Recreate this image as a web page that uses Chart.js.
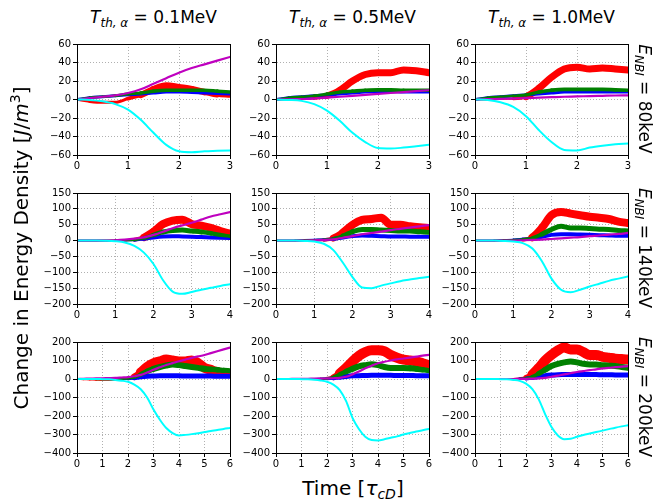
<!DOCTYPE html>
<html>
<head>
<meta charset="utf-8">
<script src="https://cdn.jsdelivr.net/npm/chart.js@4.4.0/dist/chart.umd.min.js"></script>
<style>
body { margin: 0; background: #fff; }
#figura { position: relative; width: 656px; height: 504px; font-family: "DejaVu Sans", sans-serif; color: #000; overflow: hidden; }
#figura canvas { position: absolute; }
.texto { position: absolute; text-align: center; white-space: nowrap; }
.texto sub { font-size: 70%; vertical-align: -0.3em; line-height: 0; }
.texto sup { font-size: 70%; vertical-align: 0.6em; line-height: 0; }
</style>
</head>
<body>
<div id="figura"></div>
<script>
// tempo (tau_cD) por linha
var tempo1 = [0, 0.25, 0.5, 0.75, 1, 1.25, 1.5, 1.75, 2, 2.25, 2.5, 2.75, 3];
var tempo2 = [0, 0.25, 0.5, 0.75, 1, 1.25, 1.5, 1.75, 2, 2.25, 2.5, 2.75, 3, 3.25, 3.5, 3.75, 4];
var tempo3 = [0, 0.25, 0.5, 0.75, 1, 1.25, 1.5, 1.75, 2, 2.25, 2.5, 2.75, 3, 3.25, 3.5, 3.75, 4, 4.25, 4.5, 4.75, 5, 5.25, 5.5, 5.75, 6];

var colunas = ['0.1MeV', '0.5MeV', '1.0MeV'];
var linhas = ['80keV', '140keV', '200keV'];

// E_NBI = 80keV
var vermelho11 = [0, -2, -3, -3, 1, 5, 11, 15, 13, 11, 8, 5, 4];
var verde11 = [0, 2, 3, 4, 6, 7, 9, 10, 10, 10, 10, 9, 8];
var azul11 = [0, 2, 3, 4, 5, 6, 7, 8, 8, 7.5, 7, 6.5, 6];
var magenta11 = [0, 1.5, 3, 4.5, 7, 11, 17, 23, 29, 34, 38, 42, 46];
var ciano11 = [0, -0.5, -2, -5, -11, -22, -36, -49, -56, -57, -56, -55.5, -55];

var vermelho12 = [0, 0, 1, 1.5, 4, 10, 20, 27, 29, 29, 32, 31, 29];
var verde12 = [0, 2, 3, 4, 6, 8, 9, 10, 10.5, 10.5, 10, 10, 10];
var azul12 = [0, 2, 3, 4, 5, 6, 7, 8, 8, 8.5, 8, 8, 8];
var magenta12 = [0, 0.2, 0.5, 1, 2, 3, 4, 5, 6, 7, 8, 9, 10];
var ciano12 = [0, -0.5, -1.5, -5, -12, -23, -36, -46, -52.5, -53, -52, -50.5, -49];

var vermelho13 = [0, 0, 1, 1, 3, 12, 24, 33, 35, 33, 34, 33, 32];
var verde13 = [0, 2, 3, 4, 5, 8, 10, 11, 11, 11, 11, 10.5, 10];
var azul13 = [0, 2, 3, 4, 5, 6, 7, 8, 8, 8, 8, 8, 8];
var magenta13 = [0, 0.3, 0.7, 1, 1.5, 2, 2.5, 3, 3.3, 3.7, 4, 4.3, 4.5];
var ciano13 = [0, -0.5, -3, -8, -18, -33, -46, -54.5, -55, -52, -50, -48.5, -47.5];

// E_NBI = 140keV
var vermelho21 = [0, 0, 0, 0, 0, 1, 3, 10, 28, 52, 63, 66, 52, 47, 40, 30, 22];
var verde21 = [0, 0, 0, 0, 0, 1, 2, 8, 18, 27, 32, 33, 30, 27, 23, 18, 14];
var azul21 = [0, 0, 0, 0, 0, 1, 2, 6, 10, 13, 14, 13, 12, 11, 10, 9, 8];
var magenta21 = [0, 0, 0, 0, 1, 3, 6, 10, 18, 28, 39, 48, 56, 66, 76, 83, 90];
var ciano21 = [0, 0, 0, -0.5, -2, -6, -17, -38, -74, -125, -161, -168, -162, -155, -149, -143, -138];

var vermelho22 = [0, 0, 0, 0, 1, 2, 8, 25, 50, 65, 68, 72, 50, 50, 45, 42, 40];
var verde22 = [0, 0, 0, 1, 2, 3, 6, 15, 28, 35, 35, 33, 32, 30, 30, 28, 26];
var azul22 = [0, 0, 0, 1, 2, 3, 5, 10, 14, 16, 15, 14, 13, 13, 12, 12, 12];
var magenta22 = [0, 0, 0, 0, 1, 2, 4, 9, 14, 20, 24, 28, 33, 37, 41, 45, 49];
var ciano22 = [0, 0, 0, -1, -3, -10, -30, -70, -115, -148, -150, -142, -135, -128, -123, -118, -114];

var vermelho23 = [0, 0, 0, 0, 1, 3, 10, 40, 80, 90, 85, 80, 75, 72, 68, 60, 55];
var verde23 = [0, 0, 0, 1, 2, 4, 8, 20, 35, 45, 40, 40, 38, 36, 35, 32, 30];
var azul23 = [0, 0, 0, 1, 2, 4, 6, 12, 18, 20, 20, 19, 18, 17, 16, 15, 15];
var magenta23 = [0, 0, 0, 0, 0, 1, 2, 3, 5, 7, 9, 11, 14, 16, 19, 21, 24];
var ciano23 = [0, 0, 0, -1, -3, -8, -25, -65, -120, -155, -163, -155, -145, -136, -127, -120, -113];

// E_NBI = 200keV
var vermelho31 = [0, -1, -2, -3, -4, -4, -3, -1, 3, 12, 35, 65, 85, 95, 105, 100, 95, 95, 100, 85, 60, 50, 42, 38, 35];
var verde31 = [0, 0, 0, -1, -2, -2, -1, 0, 3, 10, 25, 42, 55, 65, 73, 78, 75, 70, 65, 60, 55, 52, 50, 47, 45];
var azul31 = [0, 0, 0, 0, 0, 0, 0, 1, 3, 7, 12, 15, 16, 17, 17, 17, 17, 16, 16, 16, 16, 16, 15, 15, 15];
var magenta31 = [0, 1, 2, 3, 4, 5, 6, 8, 10, 15, 22, 35, 50, 63, 76, 86, 96, 105, 114, 122, 130, 140, 150, 160, 170];
var ciano31 = [0, 0, 0, 0, -1, -2, -5, -9, -15, -30, -55, -100, -165, -220, -265, -292, -305, -302, -298, -293, -287, -281, -276, -270, -265];

var vermelho32 = [0, 0, 0, 0, 0, 0, 0, 1, 3, 10, 30, 60, 95, 125, 145, 155, 155, 150, 130, 115, 105, 100, 95, 85, 75];
var verde32 = [0, 0, 0, 0, 0, 0, 0, 1, 3, 10, 25, 40, 55, 68, 75, 80, 75, 65, 60, 60, 60, 58, 55, 50, 45];
var azul32 = [0, 0, 0, 0, 0, 0, 0, 1, 2, 5, 10, 14, 17, 18, 19, 20, 20, 20, 20, 19, 19, 19, 18, 18, 18];
var magenta32 = [0, 0, 0, 1, 1, 1, 2, 2, 3, 4, 6, 12, 25, 40, 58, 72, 85, 93, 100, 106, 111, 116, 121, 126, 130];
var ciano32 = [0, 0, 0, 0, -1, -2, -4, -8, -15, -30, -60, -120, -210, -270, -312, -330, -332, -326, -318, -310, -300, -292, -284, -277, -270];

var vermelho33 = [0, 0, 0, 0, 0, 0, 0, 2, 8, 25, 60, 100, 130, 155, 170, 160, 160, 145, 130, 130, 120, 115, 110, 108, 105];
var verde33 = [0, 0, 0, 0, 0, 0, 0, 1, 4, 12, 30, 50, 70, 82, 90, 95, 90, 82, 78, 78, 75, 72, 70, 65, 60];
var azul33 = [0, 0, 0, 0, 0, 0, 0, 1, 3, 8, 13, 18, 21, 23, 24, 25, 25, 25, 24, 24, 23, 23, 22, 22, 22];
var magenta33 = [0, 0, 0, 0, 0, 0, 0, 1, 1, 2, 3, 6, 12, 18, 25, 31, 38, 43, 48, 52, 57, 60, 64, 67, 70];
var ciano33 = [0, 0, 0, 0, -1, -2, -5, -10, -25, -55, -110, -190, -260, -305, -325, -323, -312, -303, -295, -287, -279, -271, -263, -256, -250];

// eixos por linha
var yMin = [-60, -200, -400];
var yMax = [60, 150, 200];
var yPasso = [20, 50, 100];
var xMax = [3, 4, 6];

var tempos = [tempo1, tempo2, tempo3];
var paineis = [
	[[vermelho11, verde11, azul11, magenta11, ciano11], [vermelho12, verde12, azul12, magenta12, ciano12], [vermelho13, verde13, azul13, magenta13, ciano13]],
	[[vermelho21, verde21, azul21, magenta21, ciano21], [vermelho22, verde22, azul22, magenta22, ciano22], [vermelho23, verde23, azul23, magenta23, ciano23]],
	[[vermelho31, verde31, azul31, magenta31, ciano31], [vermelho32, verde32, azul32, magenta32, ciano32], [vermelho33, verde33, azul33, magenta33, ciano33]]
];

var esquerdaColuna = [77, 276, 475];
var topoLinha = [42, 191, 340];
var larguraPlot = 153, alturaPlot = 113;
var eixoY = 45, eixoX = 20, folgaTopo = 6, folgaDireita = 8;

// espessura maxima das faixas ruidosas por linha: vermelho, verde, azul
var espessura = [[7, 4, 3], [8, 5, 4], [10, 6, 5]];
// amplitude a partir da qual a faixa fica com a espessura cheia: vermelho/verde, azul
var limiar = [[12, 3], [30, 8], [60, 12]];

var moldura = {
	id: 'moldura',
	afterDraw: function(chart) {
		var a = chart.chartArea;
		var ctx = chart.ctx;
		ctx.save();
		ctx.strokeStyle = '#000';
		ctx.lineWidth = 1;
		ctx.strokeRect(Math.round(a.left) + 0.5, Math.round(a.top) + 0.5, Math.round(a.right - a.left), Math.round(a.bottom - a.top));
		ctx.restore();
	}
};

function serie(tempo, valores) {
	return valores.map(function(v, i) { return {x: tempo[i], y: v}; });
}

function menos(v) {
	return String(v).replace('-', '\u2212');
}

function dataset(dados, cor, largura, lim) {
	var ds = {
		data: dados,
		borderColor: cor,
		borderWidth: largura,
		pointRadius: 0,
		fill: false,
		cubicInterpolationMode: 'monotone',
		borderJoinStyle: 'round',
		borderCapStyle: 'round'
	};
	if (lim) {
		// faixa fina no inicio, cheia quando o sinal cresce
		ds.segment = {
			borderWidth: function(ctx) {
				var m = Math.max(Math.abs(ctx.p0.parsed.y), Math.abs(ctx.p1.parsed.y));
				var f = Math.min(1, m / lim);
				return 1.8 + (largura - 1.8) * f;
			}
		};
	}
	return ds;
}

function criarPainel(linha, coluna) {
	var figura = document.getElementById('figura');
	var canvas = document.createElement('canvas');
	var largura = eixoY + larguraPlot + folgaDireita;
	var altura = folgaTopo + alturaPlot + eixoX;
	canvas.width = largura;
	canvas.height = altura;
	canvas.style.left = (esquerdaColuna[coluna] - eixoY) + 'px';
	canvas.style.top = (topoLinha[linha] - folgaTopo) + 'px';
	canvas.style.width = largura + 'px';
	canvas.style.height = altura + 'px';
	figura.appendChild(canvas);

	var t = tempos[linha];
	var s = paineis[linha][coluna];
	var e = espessura[linha];
	var lim = limiar[linha];
	var fonte = {family: 'DejaVu Sans', size: 10};

	new Chart(canvas.getContext('2d'), {
		type: 'line',
		data: {
			datasets: [
				dataset(serie(t, s[4]), '#00ffff', 2),
				dataset(serie(t, s[3]), '#bf00bf', 2.2),
				dataset(serie(t, s[1]), '#008000', e[1], lim[0]),
				dataset(serie(t, s[2]), '#0000ff', e[2], lim[1]),
				dataset(serie(t, s[0]), '#ff0000', e[0], lim[0])
			]
		},
		options: {
			responsive: false,
			animation: false,
			devicePixelRatio: 1,
			layout: {padding: {top: folgaTopo, right: folgaDireita, left: 0, bottom: 0}},
			plugins: {legend: {display: false}, tooltip: {enabled: false}},
			scales: {
				x: {
					type: 'linear',
					min: 0,
					max: xMax[linha],
					afterFit: function(scale) { scale.height = eixoX; },
					ticks: {stepSize: 1, color: '#000', font: fonte, padding: 1, maxRotation: 0, callback: menos},
					grid: {color: '#b0b0b0', lineWidth: 1, tickColor: '#000', tickWidth: 1, tickLength: 4, drawTicks: true},
					border: {display: true, color: '#000', width: 1, dash: [1, 2]}
				},
				y: {
					min: yMin[linha],
					max: yMax[linha],
					afterFit: function(scale) { scale.width = eixoY; },
					ticks: {stepSize: yPasso[linha], color: '#000', font: fonte, padding: 2, callback: menos},
					grid: {color: '#b0b0b0', lineWidth: 1, tickColor: '#000', tickWidth: 1, tickLength: 4, drawTicks: true},
					border: {display: true, color: '#000', width: 1, dash: [1, 2]}
				}
			}
		},
		plugins: [moldura]
	});
}

function texto(html, cx, cy, tamanho, rotacao) {
	var d = document.createElement('div');
	d.className = 'texto';
	d.innerHTML = html;
	d.style.fontSize = tamanho + 'px';
	d.style.lineHeight = '24px';
	d.style.width = '420px';
	d.style.height = '24px';
	d.style.left = (cx - 210) + 'px';
	d.style.top = (cy - 12) + 'px';
	if (rotacao) d.style.transform = 'rotate(' + rotacao + 'deg)';
	document.getElementById('figura').appendChild(d);
}

for (var l = 0; l < 3; l++) {
	for (var c = 0; c < 3; c++) {
		criarPainel(l, c);
	}
}

colunas.forEach(function(rotulo, c) {
	texto('<i>T</i><sub><i>th, \u03b1</i></sub> = ' + rotulo, esquerdaColuna[c] + larguraPlot / 2, 17, 17);
});
linhas.forEach(function(rotulo, l) {
	texto('<i>E</i><sub><i>NBI</i></sub> = ' + rotulo, 645, topoLinha[l] + alturaPlot / 2, 17, 90);
});
texto('Change in Energy Density [<i>J</i>/<i>m</i><sup>3</sup>]', 21, 248, 20, -90);
texto('Time [<i>\u03c4</i><sub><i>cD</i></sub>]', 353, 488, 20);
</script>
</body>
</html>
